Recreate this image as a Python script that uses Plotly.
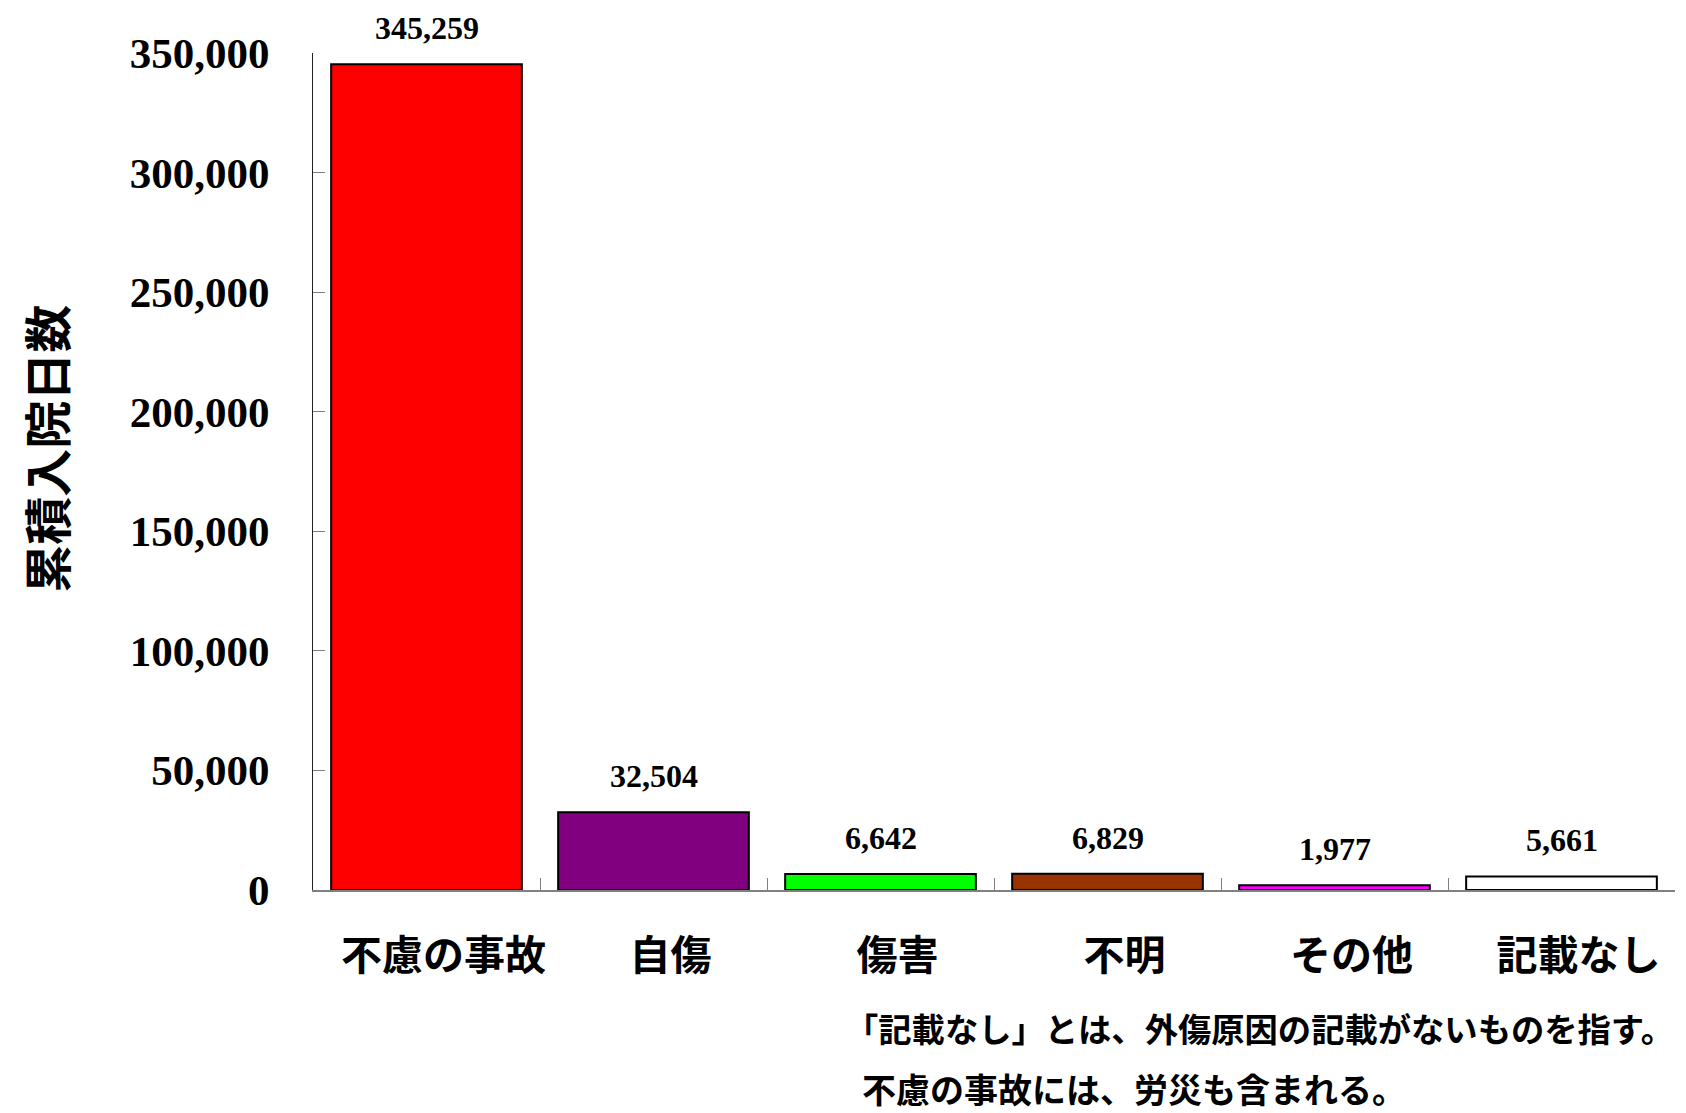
import plotly.graph_objects as go

categories = ["不慮の事故", "自傷", "傷害", "不明", "その他", "記載なし"]
values = [345259, 32504, 6642, 6829, 1977, 5661]
colors = ["#FF0000", "#800080", "#00FF00", "#993300", "#FF00FF", "#FFFFFF"]
y_title = "累積入院日数"
notes = ["「記載なし」とは、外傷原因の記載がないものを指す。",
         "不慮の事故には、労災も含まれる。"]
y_ticks = [0, 50000, 100000, 150000, 200000, 250000, 300000, 350000]

JP = "Noto Sans CJK JP"
SERIF = "Liberation Serif"

fig = go.Figure()
fig.add_trace(go.Bar(
    x=categories, y=values,
    marker=dict(color=colors, line=dict(color="black", width=2)),
    hoverinfo="skip",
))

for c, v in zip(categories, values):
    fig.add_annotation(
        x=c, y=v, xref="x", yref="y", text=f"{v:,}",
        showarrow=False, yanchor="bottom", yshift=16,
        font=dict(family=SERIF, size=32, color="black", weight="bold"),
    )

note_pos = [(0.389, -0.164), (0.4016, -0.2366)]
note_size = [33.3, 34]
for t, (xx, yy), fs in zip(notes, note_pos, note_size):
    fig.add_annotation(
        x=xx, y=yy, xref="paper", yref="paper", text=t,
        showarrow=False, xanchor="left", yanchor="middle",
        font=dict(family=JP, size=fs, color="black", weight="bold"),
    )

# y-axis title as rotated annotation
fig.add_annotation(
    x=-0.1968, y=0.527, xref="paper", yref="paper", text=y_title,
    showarrow=False, textangle=-90, xanchor="center", yanchor="middle",
    font=dict(family=JP, size=48, color="black", weight="bold"),
)

fig.update_layout(
    width=1678, height=1105,
    margin=dict(l=305, r=11, t=45, b=223),
    plot_bgcolor="white", paper_bgcolor="white",
    bargap=0.16,
    showlegend=False,
)
fig.update_xaxes(
    showgrid=False, showline=True, linecolor="#808080", linewidth=2,
    ticks="inside", tickson="boundaries", ticklen=12, tickcolor="#808080", tickwidth=1,
    tickfont=dict(family=JP, size=41, color="black", weight="bold"),
    ticklabelstandoff=29, ticklabelshift=17,
)
fig.update_yaxes(
    range=[0, 350000], tickvals=y_ticks, tickformat=",d",
    showgrid=False, zeroline=False, showline=True, linecolor="#222222", linewidth=1,
    ticks="inside", ticklen=12, tickcolor="#808080", tickwidth=1,
    tickfont=dict(family=SERIF, size=43, color="black", weight="bold"),
    ticklabelstandoff=34,
)

fig.write_html("out.html")
